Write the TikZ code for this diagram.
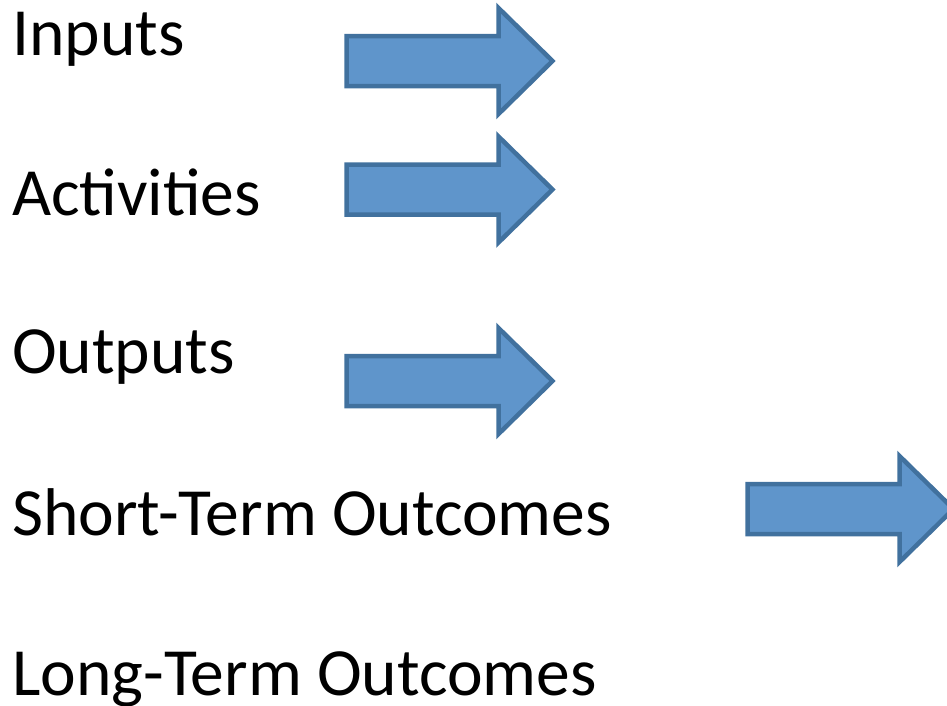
\documentclass[tikz,border=0pt]{standalone}
\usepackage{fontspec}
\setmainfont{Carlito}
\definecolor{arrowfill}{RGB}{95,149,203}
\definecolor{arrowline}{RGB}{65,113,158}

\begin{document}
\begin{tikzpicture}[x=1pt,y=-1pt,
  stage/.style={anchor=base west,inner sep=0pt,font=\fontsize{67.5}{80}\selectfont},
  bigarrow/.pic={
    \draw[draw=arrowline,fill=arrowfill,line width=4.5pt,miter limit=4]
      (-103,-25) -- (49,-25) -- (49,-53) -- (103,0) -- (49,53) -- (49,25)
      -- (-103,25) -- cycle;
    \coordinate (-tip) at (103,0);}]
  \useasboundingbox (0,0) rectangle (947,705);
  \node[stage] (inputs) at (12,55) {Inputs};
  \node[stage] (activities) at (12,215) {Activities};
  \node[stage] (outputs) at (12,373) {Outputs};
  \node[stage] (short) at (12,535) {Short-Term Outcomes};
  \node[stage] (long) at (12,695) {Long-Term Outcomes};
  \pic (a1) at (449.5,61) {bigarrow};
  \pic (a2) at (449.5,189.5) {bigarrow};
  \pic (a3) at (449.5,381) {bigarrow};
  \pic (a4) at (850.5,509) {bigarrow};
\end{tikzpicture}
\end{document}
